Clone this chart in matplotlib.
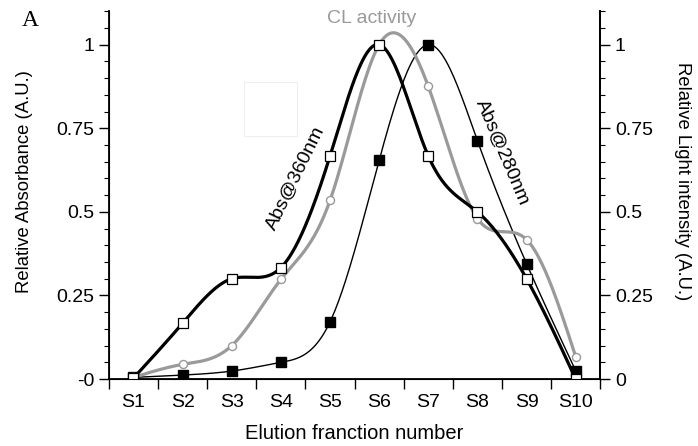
import matplotlib
matplotlib.use('Agg')
import matplotlib.pyplot as plt
import numpy as np
from matplotlib.patches import Rectangle

plt.rcParams['font.family'] = ['Liberation Sans', 'DejaVu Sans']

fractions = ['S1', 'S2', 'S3', 'S4', 'S5', 'S6', 'S7', 'S8', 'S9', 'S10']
abs360 = [0.003, 0.167, 0.300, 0.333, 0.667, 1.000, 0.667, 0.500, 0.300, 0.000]
abs280 = [0.005, 0.012, 0.024, 0.050, 0.171, 0.654, 1.000, 0.713, 0.345, 0.025]
cl_activity = [0.005, 0.044, 0.100, 0.298, 0.534, 1.000, 0.875, 0.480, 0.417, 0.067]

left_ticklabels = ['-0', '0.25', '0.5', '0.75', '1']
right_ticklabels = ['0', '0.25', '0.5', '0.75', '1']


def natural_spline(x, y, n=400):
    # plain natural cubic spline, only used to draw the smooth curve
    x = np.asarray(x, float)
    y = np.asarray(y, float)
    m = len(x)
    h = np.diff(x)
    A = np.zeros((m, m))
    r = np.zeros(m)
    A[0, 0] = A[-1, -1] = 1
    for i in range(1, m - 1):
        A[i, i - 1] = h[i - 1]
        A[i, i] = 2 * (h[i - 1] + h[i])
        A[i, i + 1] = h[i]
        r[i] = 6 * ((y[i + 1] - y[i]) / h[i] - (y[i] - y[i - 1]) / h[i - 1])
    M = np.linalg.solve(A, r)
    xs = np.linspace(x[0], x[-1], n)
    k = np.clip(np.searchsorted(x, xs) - 1, 0, m - 2)
    t = xs - x[k]
    hk = h[k]
    a = y[k]
    b = (y[k + 1] - y[k]) / hk - hk * (2 * M[k] + M[k + 1]) / 6
    c = M[k] / 2
    d = (M[k + 1] - M[k]) / (6 * hk)
    return xs, a + b * t + c * t ** 2 + d * t ** 3


def main():
    fig = plt.figure(figsize=(6.98, 4.46), dpi=100)
    ax = fig.add_axes([0.156, 0.150, 0.704, 0.825])

    xpos = np.arange(len(fractions)) + 0.5

    xs, ys = natural_spline(xpos, abs280)
    ax.plot(xs, ys, color='black', lw=1.0, zorder=2)
    xs, ys = natural_spline(xpos, cl_activity)
    ax.plot(xs, ys, color='#9a9a9a', lw=2.3, zorder=3)
    xs, ys = natural_spline(xpos, abs360)
    ax.plot(xs, ys, color='black', lw=2.3, zorder=4)

    ax.plot(xpos, abs280, 's', ms=7, mfc='black', mec='black', zorder=5)
    ax.plot(xpos, cl_activity, 'o', ms=5.8, mfc='white', mec='#9a9a9a', mew=1.0, zorder=6)
    ax.plot(xpos, abs360, 's', ms=6.5, mfc='white', mec='black', mew=0.9, zorder=7)

    ax.set_xlim(0, len(fractions))
    ax.set_ylim(0, 1.1)
    ax.set_xticks(np.arange(len(fractions) + 1))
    ax.set_xticklabels([])
    ax.set_xticks(xpos, minor=True)
    ax.set_xticklabels(fractions, minor=True)
    ax.tick_params(axis='x', which='major', direction='out', length=7, width=1)
    ax.tick_params(axis='x', which='minor', length=0, labelsize=14, pad=11)

    yt = [0, 0.25, 0.5, 0.75, 1.0]
    ax.set_yticks(yt)
    ax.set_yticklabels(left_ticklabels)
    ax.set_yticks(np.arange(0, 1.101, 0.05), minor=True)
    ax.tick_params(axis='y', which='major', direction='out', length=7, width=1, labelsize=14)
    ax.tick_params(axis='y', which='minor', direction='out', length=3.6, width=0.8)

    ax.spines['top'].set_visible(False)
    for s in ['left', 'bottom', 'right']:
        ax.spines[s].set_linewidth(1.3)

    ax2 = ax.twinx()
    ax2.set_ylim(0, 1.1)
    ax2.set_yticks(yt)
    ax2.set_yticklabels(right_ticklabels)
    ax2.set_yticks(np.arange(0, 1.101, 0.05), minor=True)
    ax2.tick_params(axis='y', which='major', direction='out', length=7, width=1, labelsize=14)
    ax2.tick_params(axis='y', which='minor', direction='out', length=3.6, width=0.8)
    ax2.spines['top'].set_visible(False)
    ax2.spines['right'].set_linewidth(1.3)

    ax.set_ylabel('Relative Absorbance (A.U.)', fontsize=13.3, va='center', ha='center')
    ax.yaxis.set_label_coords(-0.172, 0.538)
    ax2.set_ylabel('Relative Light intensity (A.U.)', fontsize=13.3, rotation=-90,
                   va='center', ha='center')
    ax2.yaxis.set_label_coords(1.167, 0.538)
    ax.set_xlabel('Elution franction number', fontsize=14.5, labelpad=9)

    fig.text(0.031, 0.953, 'A', fontsize=17, family='Liberation Serif', ha='left', va='center')
    fig.text(0.533, 0.958, 'CL activity', fontsize=14, color='#9a9a9a', ha='center', va='center')
    fig.text(0.423, 0.600, 'Abs@360nm', fontsize=14, rotation=64, ha='center', va='center')
    fig.text(0.719, 0.659, 'Abs@280nm', fontsize=14, rotation=-67, ha='center', va='center')

    fig.patches.append(Rectangle((244 / 698, 1 - 136 / 446), 53 / 698, 54 / 446,
                                 transform=fig.transFigure, fill=False,
                                 edgecolor='#eeeeee', lw=0.8))

    fig.savefig('out.png', dpi=100)


if __name__ == '__main__':
    main()
